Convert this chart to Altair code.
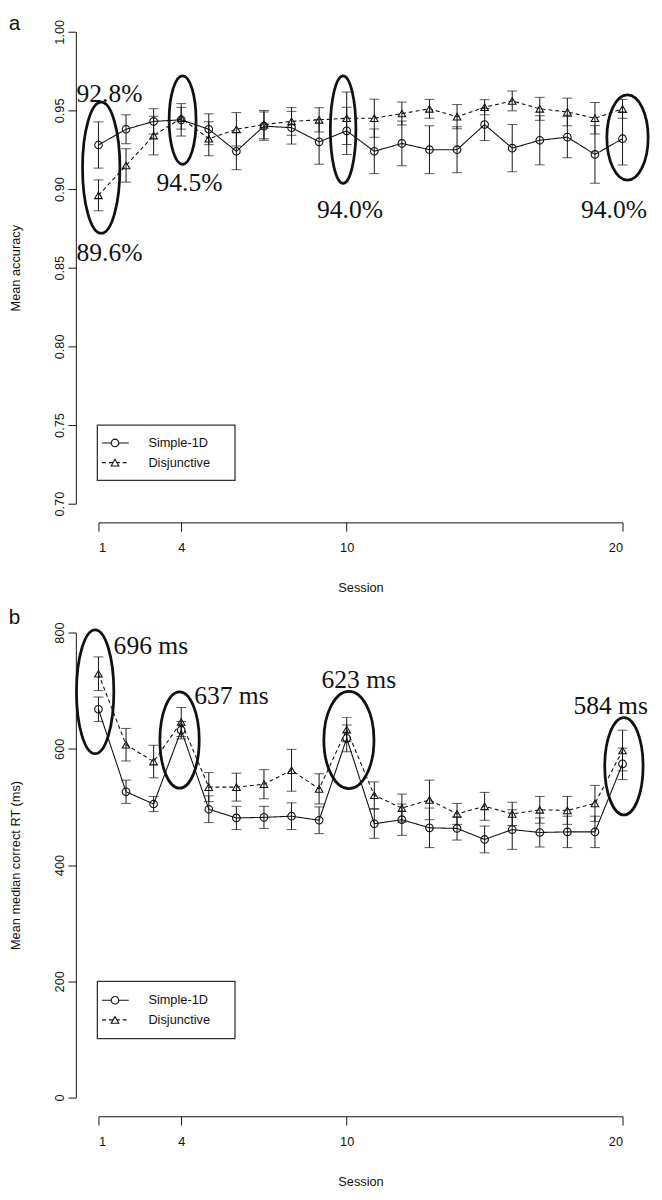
import altair as alt
import pandas as pd

# ---------------- data ----------------
sessions = list(range(1, 21))
series_names = ["Simple-1D", "Disjunctive"]

acc_simple = [0.928, 0.938, 0.943, 0.944, 0.938, 0.924, 0.940, 0.939, 0.930, 0.937,
              0.924, 0.929, 0.925, 0.925, 0.941, 0.926, 0.931, 0.933, 0.922, 0.932]
acc_simple_se = [0.0147, 0.0092, 0.0081, 0.0103, 0.0098, 0.0117, 0.0090, 0.0104, 0.0142, 0.0150,
                 0.0142, 0.0142, 0.0152, 0.0146, 0.0102, 0.0150, 0.0156, 0.0131, 0.0183, 0.0167]
acc_disj = [0.896, 0.915, 0.934, 0.945, 0.932, 0.938, 0.941, 0.943, 0.944, 0.945,
            0.945, 0.948, 0.951, 0.946, 0.952, 0.956, 0.951, 0.949, 0.945, 0.951]
acc_disj_se = [0.0098, 0.0106, 0.0123, 0.0069, 0.0108, 0.0106, 0.0090, 0.0088, 0.0077, 0.0167,
               0.0121, 0.0073, 0.0060, 0.0077, 0.0048, 0.0063, 0.0073, 0.0088, 0.0100, 0.0060]

rt_simple = [668, 526, 505, 632, 496, 481, 482, 484, 477, 618,
             471, 478, 464, 463, 444, 461, 456, 457, 457, 574]
rt_simple_se = [21, 20, 13, 15, 23, 20, 19, 23, 23, 23,
                25, 27, 34, 20, 23, 34, 25, 27, 27, 27]
rt_disj = [729, 607, 578, 646, 534, 534, 539, 563, 531, 633,
           520, 498, 512, 488, 501, 488, 495, 494, 506, 597]
rt_disj_se = [29, 28, 28, 25, 25, 24, 25, 36, 26, 21,
              23, 24, 34, 18, 24, 20, 23, 24, 31, 35]

x_ticks = [1, 4, 10, 20]
acc_ticks = [0.70, 0.75, 0.80, 0.85, 0.90, 0.95, 1.00]
rt_ticks = [0, 200, 400, 600, 800]

# annotations (data coordinates)
acc_note_text = ["92.8%", "89.6%", "94.5%", "94.0%", "94.0%"]
acc_note_session = [1.4, 1.4, 4.3, 10.12, 19.69]
acc_note_value = [0.9553, 0.8542, 0.8986, 0.8813, 0.8819]
acc_ell_session = [1.1, 4.05, 9.87, 20.18]
acc_ell_value = [0.9136, 0.9438, 0.9378, 0.9328]

rt_note_text = ["696 ms", "637 ms", "623 ms", "584 ms"]
rt_note_session = [2.9, 5.82, 10.44, 19.57]
rt_note_value = [762.8, 677.0, 705.3, 659.6]
rt_ell_session = [0.88, 3.94, 10.08, 20.05]
rt_ell_value = [698, 615, 615, 570]

# ---------------- styles ----------------
INK = "#111111"
SANS = "Liberation Sans"
SERIF = "Liberation Serif"
W = 533
ELL_ACC = [(19, 66.7), (13.7, 45), (13, 54.7), (21, 43.3)]   # (rx, ry) px
ELL_RT = [(19, 63), (20, 49), (25.5, 49.5), (19.5, 49.5)]


def ellipse_path(rx, ry):
    a = rx / ry
    return f"M {-a:.4f} 0 A {a:.4f} 1 0 1 1 {a:.4f} 0 A {a:.4f} 1 0 1 1 {-a:.4f} 0 Z"


def panel(ms, ss, md, sd, ydom, yticks, yfmt, ytitle, h,
          note_text, note_s, note_v, ell_s, ell_v, ell_r,
          leg_box, leg_y, letter, letter_y):
    xscale = alt.Scale(domain=[1, 20], nice=False, zero=False)
    yscale = alt.Scale(domain=ydom, nice=False, zero=False)
    xaxis = alt.Axis(values=x_ticks, title="Session", offset=19, tickSize=9,
                     labelPadding=11, titlePadding=27, grid=False)
    yaxis = alt.Axis(values=yticks, format=yfmt, title=ytitle, offset=23, tickSize=8,
                     labelAngle=270, labelAlign="center", labelBaseline="bottom",
                     labelPadding=2, titlePadding=31, grid=False)

    def X(f):
        return alt.X(f"{f}:Q", scale=xscale, axis=xaxis)

    def Y(f):
        return alt.Y(f"{f}:Q", scale=yscale, axis=yaxis)

    df = pd.DataFrame({
        "session": sessions * 2,
        "series": [series_names[0]] * 20 + [series_names[1]] * 20,
        "mean": list(ms) + list(md),
        "se": list(ss) + list(sd),
    })
    df["lo"] = df["mean"] - df["se"]
    df["hi"] = df["mean"] + df["se"]
    caps = pd.DataFrame({"session": list(df["session"]) * 2,
                         "v": list(df["lo"]) + list(df["hi"])})

    dash = alt.StrokeDash("series:N", scale=alt.Scale(domain=series_names, range=[[1, 0], [4, 3]]), legend=None)
    shp = alt.Shape("series:N", scale=alt.Scale(domain=series_names, range=["circle", "triangle-up"]), legend=None)

    layers = []
    layers.append(alt.Chart(df).mark_rule(color=INK, strokeWidth=1).encode(
        x=X("session"), y=Y("lo"), y2=alt.Y2("hi")))
    layers.append(alt.Chart(caps).mark_tick(orient="horizontal", size=10, thickness=1, color=INK).encode(
        x=X("session"), y=Y("v")))
    layers.append(alt.Chart(df).mark_line(color=INK, strokeWidth=1.1).encode(
        x=X("session"), y=Y("mean"), strokeDash=dash))
    layers.append(alt.Chart(df).mark_point(filled=False, color=INK, size=60, strokeWidth=1.1, opacity=1).encode(
        x=X("session"), y=Y("mean"), shape=shp))

    # ellipses
    for s, v, (rx, ry) in zip(ell_s, ell_v, ell_r):
        layers.append(alt.Chart(pd.DataFrame({"session": [s], "value": [v]})).mark_point(
            shape=ellipse_path(rx, ry), size=(2 * ry) ** 2, filled=False, color=INK,
            strokeWidth=2.8, opacity=1).encode(x=X("session"), y=Y("value")))

    # annotation texts
    notes = pd.DataFrame({"session": note_s, "value": note_v, "label": note_text})
    layers.append(alt.Chart(notes).mark_text(font=SERIF, fontSize=26, align="center",
                                             baseline="alphabetic", color=INK).encode(
        x=X("session"), y=Y("value"), text="label:N"))

    # legend
    box = pd.DataFrame({"x1": [leg_box[0]], "x2": [leg_box[1]], "y1": [leg_box[2]], "y2": [leg_box[3]]})
    layers.append(alt.Chart(box).mark_rect(fill="white", stroke="#333333", strokeWidth=1.3).encode(
        x=X("x1"), x2=alt.X2("x2"), y=Y("y1"), y2=alt.Y2("y2")))
    dashes = [[1, 0], [4, 3]]
    shapes = ["circle", "triangle-up"]
    for i, name in enumerate(series_names):
        seg = pd.DataFrame({"x1": [1.13], "x2": [2.10], "y": [leg_y[i]]})
        layers.append(alt.Chart(seg).mark_rule(color=INK, strokeWidth=1.1, strokeDash=dashes[i]).encode(
            x=X("x1"), x2=alt.X2("x2"), y=Y("y")))
        pt = pd.DataFrame({"x": [1.6], "y": [leg_y[i]]})
        layers.append(alt.Chart(pt).mark_point(shape=shapes[i], filled=True, fill="white", color=INK,
                                               stroke=INK, size=60, strokeWidth=1.1, opacity=1).encode(
            x=X("x"), y=Y("y")))
    lt = pd.DataFrame({"x": [2.81, 2.81], "y": leg_y, "label": series_names})
    layers.append(alt.Chart(lt).mark_text(font=SANS, fontSize=13, align="left", baseline="middle",
                                          color=INK).encode(x=X("x"), y=Y("y"), text="label:N"))

    # panel letter
    lab = pd.DataFrame({"x": [-2.256], "y": [letter_y], "label": [letter]})
    layers.append(alt.Chart(lab).mark_text(font=SANS, fontSize=21, align="left", baseline="top",
                                           color=INK).encode(x=X("x"), y=Y("y"), text="label:N"))

    return alt.layer(*layers).properties(width=W, height=h)


top = panel(acc_simple, acc_simple_se, acc_disj, acc_disj_se, [0.70, 1.00], acc_ticks, ".2f",
            "Mean accuracy", 480,
            acc_note_text, acc_note_session, acc_note_value, acc_ell_session, acc_ell_value, ELL_ACC,
            (0.96, 5.95, 0.75, 0.7148), [0.7386, 0.7261], "a", 1.0116)

bottom = panel(rt_simple, rt_simple_se, rt_disj, rt_disj_se, [0, 800], rt_ticks, "d",
               "Mean median correct RT (ms)", 473,
               rt_note_text, rt_note_session, rt_note_value, rt_ell_session, rt_ell_value, ELL_RT,
               (0.96, 5.95, 200, 101.5), [167.4, 133.6], "b", 844)

chart = alt.vconcat(top, bottom, spacing=12).properties(
    padding={"top": -5, "left": 0, "right": 0, "bottom": 0}, background="white"
).configure_view(stroke=None).configure_axis(
    domainColor=INK, tickColor=INK, labelColor=INK, titleColor=INK,
    domainWidth=1, tickWidth=1,
    labelFont=SANS, titleFont=SANS, labelFontSize=13, titleFontSize=13,
    titleFontWeight="normal"
)

chart.save("out.html", embed_options={"renderer": "svg", "actions": False})
